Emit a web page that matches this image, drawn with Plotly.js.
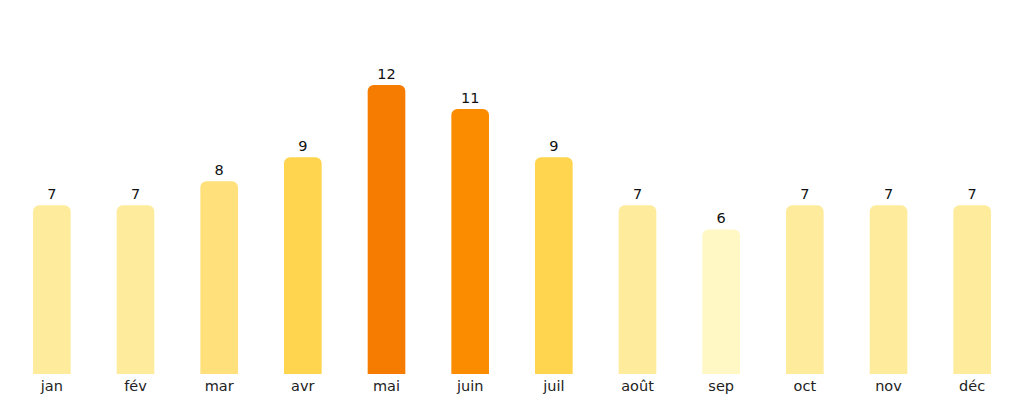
<!DOCTYPE html>
<html>
<head>
<meta charset="utf-8">
<script src="https://cdn.plot.ly/plotly-3.0.1.min.js"></script>
<style>
  html, body { margin: 0; padding: 0; background: #fff; }
  #graph { width: 1024px; height: 404px; }
</style>
</head>
<body>
<div id="graph"></div>
<script>
// mois et valeurs
let mois = ['jan', 'fév', 'mar', 'avr', 'mai', 'juin', 'juil', 'août', 'sep', 'oct', 'nov', 'déc'];
let valeurs = [7, 7, 8, 9, 12, 11, 9, 7, 6, 7, 7, 7];
let couleurs = ['#FFEB9C', '#FFEB9C', '#FFE07A', '#FFD54F', '#F57C00', '#FB8C00',
                '#FFD54F', '#FFEB9C', '#FFF8C4', '#FFEB9C', '#FFEB9C', '#FFEB9C'];

var trace = {
    x : mois,
    y : valeurs,
    type : 'bar',
    width : 0.45,
    marker : {color : couleurs, cornerradius : 6, line : {width : 0}},
    text : valeurs.map(String),
    textposition : 'outside',
    cliponaxis : false,
    textfont : {family : 'DejaVu Sans', size : 14.5, color : '#111'},
    hoverinfo : 'none'
};

var layout = {
    width : 1024,
    height : 404,
    margin : {l : 10, r : 10, t : 30, b : 30},
    paper_bgcolor : '#fff',
    plot_bgcolor : '#fff',
    showlegend : false,
    font : {family : 'DejaVu Sans', color : '#222'},
    xaxis : {
        type : 'category',
        range : [-0.5, 11.5],
        showgrid : false,
        zeroline : false,
        showline : false,
        ticks : '',
        ticklabelstandoff : 1,
        tickfont : {size : 14.5, color : '#222'}
    },
    yaxis : {
        range : [0, 14.28],
        visible : false,
        showgrid : false,
        zeroline : false
    }
};

Plotly.newPlot('graph', [trace], layout, {displayModeBar : false, staticPlot : true});
</script>
</body>
</html>
